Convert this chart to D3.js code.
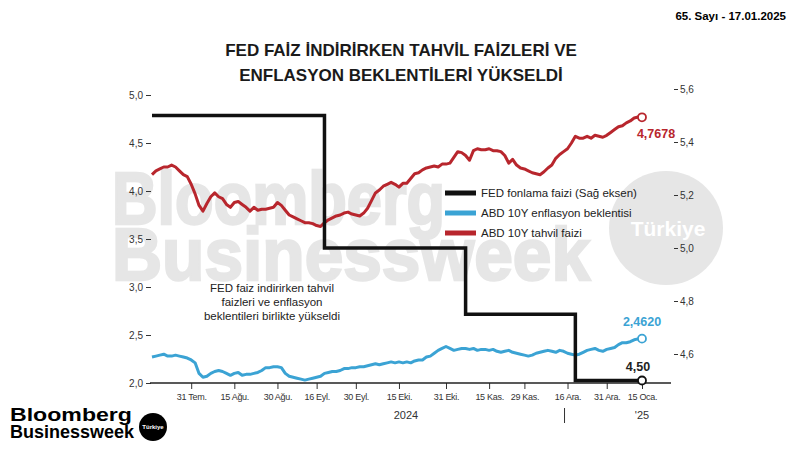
<!DOCTYPE html>
<html>
<head>
<meta charset="utf-8">
<script src="https://cdn.jsdelivr.net/npm/d3@7"></script>
<style>
  body { margin: 0; background: #fff; }
  svg { font-family: "Liberation Sans", Arial, sans-serif; }
</style>
</head>
<body>
<script>

// trading days from 17 Jul 2024 to 15 Jan 2025 (US market holidays removed)
var holidays = ["2024-09-02", "2024-11-28", "2024-12-25", "2025-01-01", "2025-01-09"];

// ABD 10Y tahvil faizi, one value per trading day
var yield10y = [
  4.17, 4.21, 4.23, 4.25, 4.25, 4.27, 4.25, 4.21, 4.17, 4.15,
  4.07, 3.97, 3.85, 3.79, 3.87, 3.94, 3.98, 3.94, 3.92, 3.86,
  3.83, 3.88, 3.89, 3.86, 3.83, 3.79, 3.83, 3.80, 3.81, 3.81,
  3.82, 3.83, 3.88, 3.85, 3.80, 3.75, 3.73, 3.71, 3.69, 3.67,
  3.67, 3.66, 3.64, 3.63, 3.67, 3.70, 3.72, 3.74, 3.75, 3.77,
  3.78, 3.76, 3.75, 3.74, 3.77, 3.82, 3.90, 3.98, 4.01, 4.05,
  4.07, 4.09, 4.07, 4.04, 4.08, 4.08, 4.13, 4.18, 4.19, 4.22,
  4.24, 4.25, 4.26, 4.25, 4.28, 4.28, 4.29, 4.35, 4.41, 4.40,
  4.37, 4.32, 4.42, 4.44, 4.43, 4.43, 4.44, 4.42, 4.42, 4.41,
  4.37, 4.29, 4.33, 4.27, 4.24, 4.23, 4.21, 4.19, 4.18, 4.17,
  4.20, 4.24, 4.27, 4.34, 4.38, 4.41, 4.44, 4.50, 4.57, 4.55,
  4.55, 4.57, 4.55, 4.58, 4.57, 4.56, 4.58, 4.61, 4.64, 4.67,
  4.68, 4.71, 4.73, 4.76, 4.77, 4.7678
];

// ABD 10Y enflasyon beklentisi
var breakeven10y = [
  2.27, 2.28, 2.29, 2.30, 2.28, 2.28, 2.29, 2.28, 2.27, 2.26,
  2.24, 2.21, 2.10, 2.06, 2.07, 2.10, 2.12, 2.13, 2.12, 2.10,
  2.08, 2.10, 2.11, 2.08, 2.09, 2.09, 2.10, 2.11, 2.13, 2.16,
  2.16, 2.17, 2.17, 2.16, 2.10, 2.07, 2.06, 2.05, 2.04, 2.03,
  2.04, 2.05, 2.06, 2.07, 2.10, 2.11, 2.12, 2.12, 2.13, 2.15,
  2.15, 2.16, 2.16, 2.17, 2.17, 2.18, 2.19, 2.20, 2.19, 2.20,
  2.21, 2.22, 2.21, 2.22, 2.21, 2.22, 2.21, 2.23, 2.24, 2.24,
  2.27, 2.28, 2.31, 2.34, 2.36, 2.38, 2.36, 2.34, 2.35, 2.36,
  2.36, 2.35, 2.36, 2.34, 2.35, 2.35, 2.34, 2.35, 2.33, 2.32,
  2.33, 2.34, 2.32, 2.31, 2.30, 2.29, 2.28, 2.29, 2.31, 2.32,
  2.33, 2.34, 2.33, 2.32, 2.34, 2.33, 2.31, 2.30, 2.29, 2.30,
  2.32, 2.34, 2.35, 2.36, 2.34, 2.33, 2.35, 2.36, 2.37, 2.40,
  2.42, 2.42, 2.43, 2.45, 2.46, 2.462
];

// FED fonlama faizi (upper bound), changes on FOMC days
var fedDates = ["2024-07-17", "2024-09-18", "2024-11-07", "2024-12-18", "2025-01-15"];
var fedRates = [5.5, 5.0, 4.75, 4.5, 4.5];

var tickDates = ["2024-07-31", "2024-08-15", "2024-08-30", "2024-09-16", "2024-09-30", "2024-10-15",
                 "2024-10-31", "2024-11-15", "2024-11-29", "2024-12-16", "2024-12-31", "2025-01-15"];
var tickLabels = ["31 Tem.", "15 Ağu.", "30 Ağu.", "16 Eyl.", "30 Eyl.", "15 Eki.",
                  "31 Eki.", "15 Kas.", "29 Kas.", "16 Ara.", "31 Ara.", "15 Oca."];

var leftTicks = [2.0, 2.5, 3.0, 3.5, 4.0, 4.5, 5.0];
var rightTicks = [4.6, 4.8, 5.0, 5.2, 5.4, 5.6];

var legendNames = ["FED fonlama faizi (Sağ eksen)", "ABD 10Y enflasyon beklentisi", "ABD 10Y tahvil faizi"];
var colors = ["#111111", "#3ba3d4", "#b8262d"];

var fmt = d3.timeFormat("%Y-%m-%d");
var days = d3.timeDay.range(new Date(2024, 6, 17), new Date(2025, 0, 16))
  .filter(function(d) { return d.getDay() != 0 && d.getDay() != 6 && holidays.indexOf(fmt(d)) < 0; })
  .map(fmt);

var svg = d3.select("body").append("svg")
  .attr("width", 800)
  .attr("height", 450);

var x = d3.scalePoint().domain(days).range([152, 642]);
var yL = d3.scaleLinear().domain([2, 5]).range([383, 95]);
var yR = d3.scaleLinear().domain([4.6, 5.6]).range([354, 89]);

var comma = function(v, n) { return d3.format("." + n + "f")(v).replace(".", ","); };

// header
svg.append("text")
  .attr("x", 786).attr("y", 20)
  .attr("text-anchor", "end")
  .style("font-size", "11.5px").style("font-weight", "bold")
  .text("65. Sayı - 17.01.2025");

svg.selectAll(".title")
  .data(["FED FAİZ İNDİRİRKEN TAHVİL FAİZLERİ VE", "ENFLASYON BEKLENTİLERİ YÜKSELDİ"])
  .enter().append("text")
  .attr("x", 401)
  .attr("y", function(d, i) { return 56 + i * 25; })
  .attr("text-anchor", "middle")
  .style("font-size", "17px").style("font-weight", "bold").style("fill", "#1a1a1a")
  .text(function(d) { return d; });

// watermark
var wm = svg.append("g").style("fill", "#e6e6e6").style("stroke", "#e6e6e6")
  .style("stroke-width", 2.5).style("font-weight", "bold");
wm.append("text").attr("x", 112).attr("y", 224)
  .attr("textLength", 333).attr("lengthAdjust", "spacingAndGlyphs")
  .style("font-size", "74px").text("Bloomberg");
wm.append("text").attr("x", 112).attr("y", 280)
  .attr("textLength", 478).attr("lengthAdjust", "spacingAndGlyphs")
  .style("font-size", "74px").text("Businessweek");
svg.append("circle").attr("cx", 666).attr("cy", 228).attr("r", 57).style("fill", "#e6e6e6");
svg.append("text").attr("x", 668).attr("y", 236).attr("text-anchor", "middle")
  .style("font-size", "21px").style("font-weight", "bold").style("fill", "#fff")
  .text("Türkiye");

// axes
var axL = svg.append("g").attr("transform", "translate(151,0)")
  .call(d3.axisLeft(yL).tickValues(leftTicks).tickSize(5).tickPadding(3)
    .tickFormat(function(d) { return comma(d, 1); }));
var axR = svg.append("g").attr("transform", "translate(674,0)")
  .call(d3.axisRight(yR).tickValues(rightTicks).tickSize(4).tickPadding(2)
    .tickFormat(function(d) { return comma(d, 1); }));
var axB = svg.append("g").attr("transform", "translate(0,383)")
  .call(d3.axisBottom(x).tickValues(tickDates).tickSize(6).tickPadding(5)
    .tickFormat(function(d, i) { return tickLabels[i]; }));

[axL, axR, axB].forEach(function(a) {
  a.select(".domain").remove();
  a.selectAll("text").style("font-family", "Liberation Sans, Arial, sans-serif")
    .style("font-size", "10px").style("fill", "#333");
  a.selectAll("line").style("stroke", "#333");
});
axB.selectAll("text").style("font-size", "9px").style("letter-spacing", "-0.3px");

svg.append("line")
  .attr("x1", 150).attr("x2", 671).attr("y1", 383).attr("y2", 383)
  .style("stroke", "#222").style("stroke-width", 1.3);

svg.append("text").attr("x", x("2024-10-15") + 7).attr("y", 419)
  .attr("text-anchor", "middle").style("font-size", "11px").style("fill", "#333").text("2024");
svg.append("text").attr("x", x("2025-01-15")).attr("y", 419)
  .attr("text-anchor", "middle").style("font-size", "11px").style("fill", "#333").text("'25");
svg.append("line")
  .attr("x1", x("2024-12-16") - 3).attr("x2", x("2024-12-16") - 3).attr("y1", 408).attr("y2", 423)
  .style("stroke", "#333").style("stroke-width", 1);

// lines
var lineL = d3.line()
  .x(function(d, i) { return x(days[i]); })
  .y(function(d) { return yL(d); });

svg.append("path").datum(breakeven10y)
  .attr("d", lineL)
  .style("fill", "none").style("stroke", colors[1]).style("stroke-width", 3)
  .style("stroke-linejoin", "round");

svg.append("path").datum(yield10y)
  .attr("d", lineL)
  .style("fill", "none").style("stroke", colors[2]).style("stroke-width", 3)
  .style("stroke-linejoin", "round");

var fedLine = d3.line()
  .x(function(d, i) { return x(fedDates[i]); })
  .y(function(d) { return yR(d); })
  .curve(d3.curveStepAfter);

svg.append("path").datum(fedRates)
  .attr("d", fedLine)
  .style("fill", "none").style("stroke", colors[0]).style("stroke-width", 3.5);

// end markers
var last = days[days.length - 1];
var ends = [
  { y: yR(fedRates[fedRates.length - 1]), c: colors[0] },
  { y: yL(breakeven10y[breakeven10y.length - 1]), c: colors[1] },
  { y: yL(yield10y[yield10y.length - 1]), c: colors[2] }
];
svg.selectAll(".end").data(ends).enter().append("circle")
  .attr("cx", x(last)).attr("cy", function(d) { return d.y; }).attr("r", 4)
  .style("fill", "#fff").style("stroke", function(d) { return d.c; }).style("stroke-width", 1.8);

svg.append("text").attr("x", 656).attr("y", 138).attr("text-anchor", "middle")
  .style("font-size", "12.5px").style("font-weight", "bold").style("fill", colors[2])
  .text(comma(yield10y[yield10y.length - 1], 4));
svg.append("text").attr("x", 642).attr("y", 326).attr("text-anchor", "middle")
  .style("font-size", "12.5px").style("font-weight", "bold").style("fill", colors[1])
  .text(comma(breakeven10y[breakeven10y.length - 1], 4));
svg.append("text").attr("x", 638).attr("y", 371).attr("text-anchor", "middle")
  .style("font-size", "12.5px").style("font-weight", "bold").style("fill", "#222")
  .text(comma(fedRates[fedRates.length - 1], 2));

// legend
var leg = svg.selectAll(".leg").data(legendNames).enter().append("g")
  .attr("transform", function(d, i) { return "translate(445," + (193 + i * 20) + ")"; });
leg.append("line").attr("x1", 0).attr("x2", 31)
  .style("stroke", function(d, i) { return colors[i]; }).style("stroke-width", 5);
leg.append("text").attr("x", 36).attr("y", 4)
  .style("font-size", "11.5px").style("fill", "#222")
  .text(function(d) { return d; });

// annotation
svg.selectAll(".note")
  .data(["FED faiz indirirken tahvil", "faizleri ve enflasyon", "beklentileri birlikte yükseldi"])
  .enter().append("text")
  .attr("x", 272).attr("y", function(d, i) { return 292 + i * 14; })
  .attr("text-anchor", "middle")
  .style("font-size", "11.5px").style("fill", "#222")
  .text(function(d) { return d; });

// logo
svg.append("text").attr("x", 10).attr("y", 421)
  .attr("textLength", 122).attr("lengthAdjust", "spacingAndGlyphs")
  .style("font-size", "18px").style("font-weight", "bold").text("Bloomberg");
svg.append("text").attr("x", 10).attr("y", 438)
  .attr("textLength", 124).attr("lengthAdjust", "spacingAndGlyphs")
  .style("font-size", "18px").style("font-weight", "bold").text("Businessweek");
svg.append("circle").attr("cx", 153).attr("cy", 427).attr("r", 14).style("fill", "#000");
svg.append("text").attr("x", 153).attr("y", 429).attr("text-anchor", "middle")
  .style("font-size", "6px").style("font-weight", "bold").style("fill", "#fff").text("Türkiye");

</script>
</body>
</html>
